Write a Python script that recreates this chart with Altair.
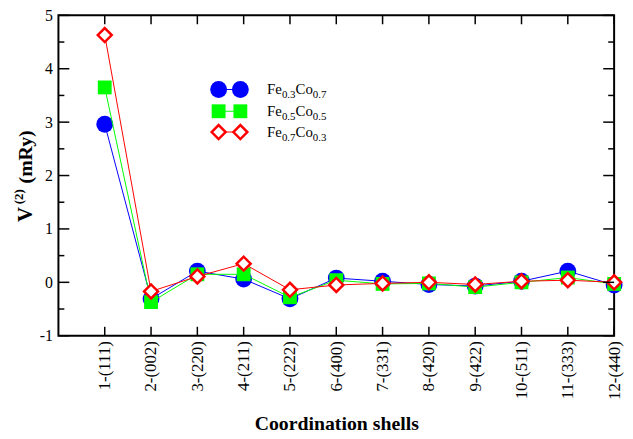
import altair as alt
import pandas as pd

# ---------------- data ----------------
shells = ["1-(111)", "2-(002)", "3-(220)", "4-(211)", "5-(222)", "6-(400)",
          "7-(331)", "8-(420)", "9-(422)", "10-(511)", "11-(333)", "12-(440)"]
shell_index = list(range(1, 13))
fe03co07 = [2.96, -0.31, 0.21, 0.06, -0.31, 0.08, 0.02, -0.04, -0.07, 0.02, 0.21, -0.05]
fe05co05 = [3.65, -0.37, 0.15, 0.15, -0.28, 0.04, -0.03, -0.02, -0.09, 0.00, 0.09, -0.03]
fe07co03 = [4.63, -0.17, 0.11, 0.35, -0.14, -0.05, -0.02, 0.00, -0.04, 0.02, 0.04, 0.00]

series_names = ["Fe0.3Co0.7", "Fe0.5Co0.5", "Fe0.7Co0.3"]
series_values = [fe03co07, fe05co05, fe07co03]
series_subs = [("0.3", "0.7"), ("0.5", "0.5"), ("0.7", "0.3")]
series_colors = ["#0000ff", "#00ff00", "#ff0000"]
series_shapes = ["circle", "square", "diamond"]

y_major = [-1, 0, 1, 2, 3, 4, 5]
y_minor = [-0.5, 0.5, 1.5, 2.5, 3.5, 4.5]

# ---------------- layout ----------------
W, H = 562, 324
FONT = "Liberation Serif"

xscale = alt.Scale(domain=[0, 12], nice=False, zero=False)
yscale = alt.Scale(domain=[-1, 5], nice=False, zero=False)

label_expr = "[" + ",".join("'%s'" % s for s in shells) + "][datum.value - 1]"

x_axis = alt.Axis(values=shell_index, labelExpr=label_expr, labelAngle=270,
                  labelFontSize=17, labelPadding=5, labelFlush=False,
                  labelOverlap=False, title="Coordination shells",
                  titleFontSize=20, titleFontWeight="bold", titlePadding=14,
                  grid=False, ticks=False, domain=False,
                  labelColor="black", titleColor="black",
                  labelFont=FONT, titleFont=FONT)
y_axis = alt.Axis(values=y_major, labelExpr="'' + datum.value", labelFontSize=16,
                  labelPadding=6, labelFlush=False, labelOverlap=False,
                  title=None, grid=False, ticks=False, domain=False,
                  labelColor="black", labelFont=FONT)

layers = []

# data series
for i, (name, vals, col, shp) in enumerate(zip(series_names, series_values,
                                                series_colors, series_shapes)):
    df = pd.DataFrame({"shell": shell_index, "value": vals})
    base = alt.Chart(df).encode(
        x=alt.X("shell:Q", scale=xscale, axis=x_axis),
        y=alt.Y("value:Q", scale=yscale, axis=y_axis),
    )
    layers.append(base.mark_line(color=col, strokeWidth=1))
    if shp == "diamond":
        pts = base.mark_point(shape=shp, size=200, filled=True, fill="white",
                              stroke=col, strokeWidth=2.5, opacity=1)
    elif shp == "circle":
        pts = base.mark_point(shape=shp, size=290, filled=True, color=col, opacity=1)
    else:
        pts = base.mark_point(shape=shp, size=196, filled=True, color=col, opacity=1)
    layers.append(pts)

# inward ticks
ymaj_df = pd.DataFrame({"shell": 0, "value": y_major})
ymin_df = pd.DataFrame({"shell": 0, "value": y_minor})
x_df = pd.DataFrame({"shell": shell_index, "value": 0})
tick_style = dict(color="black", strokeWidth=1.5)
for xa_, xb_ in [(0, 11), (W, W - 11)]:
    layers.append(alt.Chart(ymaj_df).mark_rule(**tick_style).encode(
        y=alt.Y("value:Q", scale=yscale, axis=y_axis), x=alt.value(xa_), x2=alt.value(xb_)))
for xa_, xb_ in [(0, 6), (W, W - 6)]:
    layers.append(alt.Chart(ymin_df).mark_rule(**tick_style).encode(
        y=alt.Y("value:Q", scale=yscale, axis=y_axis), x=alt.value(xa_), x2=alt.value(xb_)))
for ya_, yb_ in [(H, H - 9), (0, 9)]:
    layers.append(alt.Chart(x_df).mark_rule(**tick_style).encode(
        x=alt.X("shell:Q", scale=xscale, axis=x_axis), y=alt.value(ya_), y2=alt.value(yb_)))

# y-axis title (with superscript)
one = alt.Data(values=[{"a": 1}])
for txt, size, xpos, ypos in [("V", 21, -33, 209), ("(2)", 13, -40, 191), ("(mRy)", 20, -33, 170)]:
    layers.append(alt.Chart(one).mark_text(
        text=txt, font=FONT, fontSize=size, fontWeight="bold", angle=270,
        align="left", baseline="middle", color="black"
    ).encode(x=alt.value(xpos), y=alt.value(ypos)))

# legend
row_y = [75, 97, 118]
sym_x = [162, 184]
text_x = 211
for i in range(3):
    ry = row_y[i]
    col = series_colors[i]
    shp = series_shapes[i]
    layers.append(alt.Chart(one).mark_rule(color=col, strokeWidth=1).encode(
        x=alt.value(sym_x[0]), x2=alt.value(sym_x[1]), y=alt.value(ry)))
    for sx in sym_x:
        if shp == "diamond":
            m = alt.Chart(one).mark_point(shape=shp, size=200, filled=True, fill="white",
                                          stroke=col, strokeWidth=2.5, opacity=1)
        elif shp == "circle":
            m = alt.Chart(one).mark_point(shape=shp, size=290, filled=True, color=col, opacity=1)
        else:
            m = alt.Chart(one).mark_point(shape=shp, size=196, filled=True, color=col, opacity=1)
        layers.append(m.encode(x=alt.value(sx), y=alt.value(ry)))
    s1, s2 = series_subs[i]
    pieces = [("Fe", 15, 0, 0), (s1, 11, 15, 4), ("Co", 15, 28.75, 0), (s2, 11, 46.25, 4)]
    for txt, size, dx, dy in pieces:
        layers.append(alt.Chart(one).mark_text(
            text=txt, font=FONT, fontSize=size, align="left", baseline="alphabetic",
            color="black"
        ).encode(x=alt.value(text_x + dx), y=alt.value(ry + 5 + dy)))

chart = alt.layer(*layers).properties(
    width=W, height=H,
    autosize=alt.AutoSizeParams(type="none"),
    padding={"left": 51, "top": 5, "right": 11, "bottom": 100},
    background="white",
).configure(
    font=FONT
).configure_axis(
    labelFont=FONT, titleFont=FONT
).configure_view(
    stroke="black", strokeWidth=2
)

chart.save("out.html", embed_options={"renderer": "svg", "actions": False})
